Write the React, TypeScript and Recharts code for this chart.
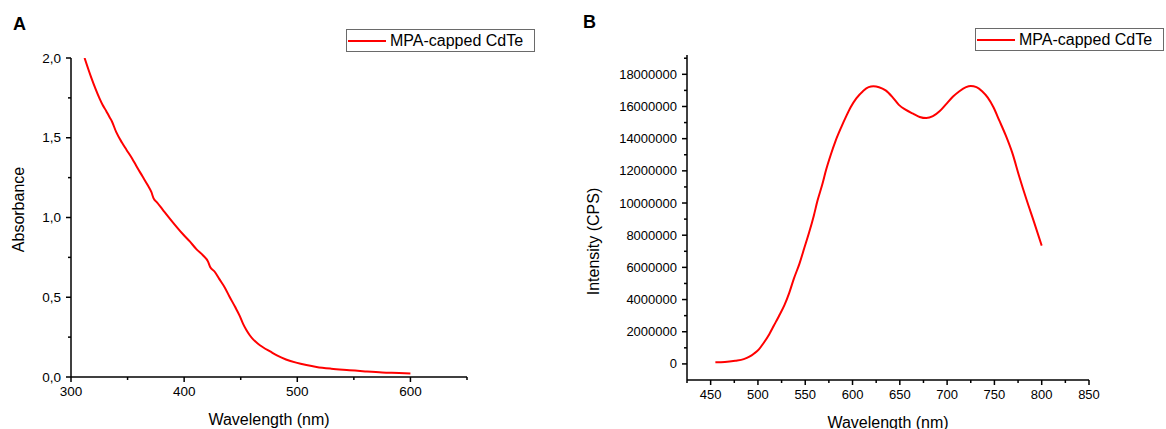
import { LineChart, Line, XAxis, YAxis, Legend } from 'recharts'

// A: absorption spectrum
const absWavelength = [
  312, 318, 325, 328, 331, 334, 336, 340, 345, 349, 354, 358, 363, 368, 371, 373, 376, 381, 390, 399,
  405, 411, 417, 421, 423, 427, 431, 436, 440, 445, 449, 452, 455, 458, 461, 465, 470, 476, 482, 490,
  499, 508, 517, 530, 546, 560, 575, 590, 600,
]
const absorbance = [
  2.0, 1.875, 1.75, 1.705, 1.67, 1.63, 1.605, 1.535, 1.47, 1.425, 1.37, 1.32, 1.26, 1.2, 1.16, 1.12, 1.095, 1.05, 0.97, 0.895,
  0.85, 0.8, 0.76, 0.725, 0.69, 0.66, 0.615, 0.56, 0.505, 0.44, 0.385, 0.335, 0.295, 0.262, 0.236, 0.21, 0.185, 0.16, 0.135, 0.11,
  0.09, 0.075, 0.063, 0.052, 0.043, 0.035, 0.028, 0.025, 0.022,
]
const absXTicks = [300, 350, 400, 450, 500, 550, 600, 650]
const absYTicks = [0, 0.25, 0.5, 0.75, 1, 1.25, 1.5, 1.75, 2]

// B: emission spectrum
const plWavelength = [
  455, 465, 476, 485, 491, 496, 501, 506, 512, 517, 522, 528, 533, 538, 544, 549, 554, 559, 563, 568,
  572, 577, 582, 588, 593, 598, 604, 611, 617, 622, 628, 635, 642, 649, 656, 664, 671, 678, 685, 692,
  699, 706, 713, 720, 725, 731, 737, 743, 749, 755, 762, 769, 776, 784, 792, 800,
]
const plIntensity = [
  100000, 120000, 200000, 300000, 450000, 650000, 900000, 1300000, 1850000, 2400000, 2950000, 3650000, 4400000, 5300000, 6250000, 7200000, 8150000, 9200000, 10150000, 11150000,
  12050000, 13000000, 13850000, 14700000, 15350000, 15950000, 16500000, 16950000, 17200000, 17250000, 17200000, 17000000, 16600000, 16100000, 15800000, 15550000, 15350000, 15280000, 15400000, 15700000,
  16150000, 16600000, 16950000, 17200000, 17270000, 17200000, 16950000, 16550000, 15950000, 15150000, 14200000, 13100000, 11700000, 10200000, 8800000, 7350000,
]
const plXTicks = [425, 450, 475, 500, 525, 550, 575, 600, 625, 650, 675, 700, 725, 750, 775, 800, 825, 850]
const plYTicks = Array.from({ length: 20 }, (_, i) => i * 1000000)

const seriesName = 'MPA-capped CdTe'
const FONT = '"Liberation Sans", Arial, sans-serif'

const absData = absWavelength.map((nm, i) => ({ nm, value: absorbance[i] }))
const plData = plWavelength.map((nm, i) => ({ nm, value: plIntensity[i] }))

function BottomTick({ x, y, payload, isMajor, fontSize }: any) {
  const major = isMajor(payload.value)
  return (
    <g>
      <line x1={x} y1={y} x2={x} y2={y + (major ? 5 : 3)} stroke="#000" strokeWidth={1.5} />
      {major && (
        <text x={x} y={y + 19} textAnchor="middle" fontSize={fontSize} fontFamily={FONT} fill="#000">
          {payload.value}
        </text>
      )}
    </g>
  )
}

function LeftTick({ x, y, payload, isMajor, format, fontSize }: any) {
  const major = isMajor(payload.value)
  return (
    <g>
      <line x1={x} y1={y} x2={x - (major ? 5 : 3)} y2={y} stroke="#000" strokeWidth={1.5} />
      {major && (
        <text x={x - 10} y={y} dy="0.35em" textAnchor="end" fontSize={fontSize} fontFamily={FONT} fill="#000">
          {format(payload.value)}
        </text>
      )}
    </g>
  )
}

function AxisTitle({ viewBox, value, dx, dy, vertical }: any) {
  const cx = vertical ? viewBox.x + dx : viewBox.x + viewBox.width / 2
  const cy = vertical ? viewBox.y + viewBox.height / 2 + dy : viewBox.y + dy
  return (
    <text
      x={cx}
      y={cy}
      textAnchor="middle"
      dominantBaseline="central"
      fontSize={16}
      fontFamily={FONT}
      fill="#000"
      transform={vertical ? `rotate(-90 ${cx} ${cy})` : undefined}
    >
      {value}
    </text>
  )
}

function LegendBox({ payload }: any) {
  const item = payload?.[0]
  if (!item) return null
  return (
    <div
      style={{
        boxSizing: 'border-box',
        width: 189,
        height: 23,
        border: '1px solid #6a6a6a',
        display: 'flex',
        alignItems: 'center',
        fontFamily: FONT,
        background: '#fff',
      }}
    >
      <span style={{ display: 'inline-block', width: 38, height: 2, marginLeft: 1, background: item.color }} />
      <span style={{ marginLeft: 4, fontSize: 16, color: '#000', whiteSpace: 'nowrap' }}>{item.value}</span>
    </div>
  )
}

const isHalf = (v: number) => Math.abs(v * 2 - Math.round(v * 2)) < 1e-6
const isHundred = (v: number) => v % 100 === 0
const isFifty = (v: number) => v % 50 === 0
const isTwoMillion = (v: number) => v % 2000000 === 0

export default function App() {
  return (
    <div style={{ position: 'fixed', left: 0, top: 0, width: 1166, height: 429, background: '#fff', fontFamily: FONT }}>
      <div style={{ position: 'absolute', left: 13, top: 14, fontSize: 18, fontWeight: 'bold' }}>A</div>
      <div style={{ position: 'absolute', left: 583, top: 12, fontSize: 18, fontWeight: 'bold' }}>B</div>

      <div style={{ position: 'absolute', left: 0, top: 0 }}>
        <LineChart width={480} height={429} data={absData} margin={{ top: 58, right: 13, bottom: 0, left: 0 }}>
          <XAxis
            type="number"
            dataKey="nm"
            domain={[300, 650]}
            ticks={absXTicks}
            interval={0}
            allowDataOverflow
            height={52}
            tickSize={0}
            tickMargin={0}
            tickLine={false}
            axisLine={{ stroke: '#000', strokeWidth: 1.5 }}
            tick={(p: any) => <BottomTick {...p} isMajor={isHundred} fontSize={13.5} />}
            label={(p: any) => <AxisTitle {...p} value="Wavelength (nm)" dy={42} />}
          />
          <YAxis
            type="number"
            domain={[0, 2]}
            ticks={absYTicks}
            interval={0}
            allowDataOverflow
            width={71}
            tickSize={0}
            tickMargin={0}
            tickLine={false}
            axisLine={{ stroke: '#000', strokeWidth: 1.5 }}
            tick={(p: any) => (
              <LeftTick {...p} isMajor={isHalf} fontSize={13.5} format={(v: number) => v.toFixed(1).replace('.', ',')} />
            )}
            label={(p: any) => <AxisTitle {...p} value="Absorbance" dx={18} dy={-8} vertical />}
          />
          <Legend
            layout="vertical"
            align="center"
            verticalAlign="middle"
            content={<LegendBox />}
            wrapperStyle={{ left: 346, top: 29, width: 189, height: 23 }}
          />
          <Line
            type="monotone"
            dataKey="value"
            name={seriesName}
            stroke="#ff0000"
            strokeWidth={2}
            dot={false}
            isAnimationActive={false}
          />
        </LineChart>
      </div>

      <div style={{ position: 'absolute', left: 570, top: 0 }}>
        <LineChart width={596} height={429} data={plData} margin={{ top: 55, right: 77, bottom: 0, left: 0 }}>
          <XAxis
            type="number"
            dataKey="nm"
            domain={[425, 850]}
            ticks={plXTicks}
            interval={0}
            allowDataOverflow
            height={49}
            tickSize={0}
            tickMargin={0}
            tickLine={false}
            axisLine={{ stroke: '#000', strokeWidth: 1.5 }}
            tick={(p: any) => <BottomTick {...p} isMajor={isFifty} fontSize={13} />}
            label={(p: any) => <AxisTitle {...p} value="Wavelength (nm)" dy={42} />}
          />
          <YAxis
            type="number"
            domain={[-1000000, 19200000]}
            ticks={plYTicks}
            interval={0}
            allowDataOverflow
            width={117}
            tickSize={0}
            tickMargin={0}
            tickLine={false}
            axisLine={{ stroke: '#000', strokeWidth: 1.5 }}
            tick={(p: any) => <LeftTick {...p} isMajor={isTwoMillion} fontSize={13} format={(v: number) => String(v)} />}
            label={(p: any) => <AxisTitle {...p} value="Intensity (CPS)" dx={23} dy={24} vertical />}
          />
          <Legend
            layout="vertical"
            align="center"
            verticalAlign="middle"
            content={<LegendBox />}
            wrapperStyle={{ left: 405, top: 28, width: 189, height: 23 }}
          />
          <Line
            type="monotone"
            dataKey="value"
            name={seriesName}
            stroke="#ff0000"
            strokeWidth={2}
            dot={false}
            isAnimationActive={false}
          />
        </LineChart>
      </div>
    </div>
  )
}
